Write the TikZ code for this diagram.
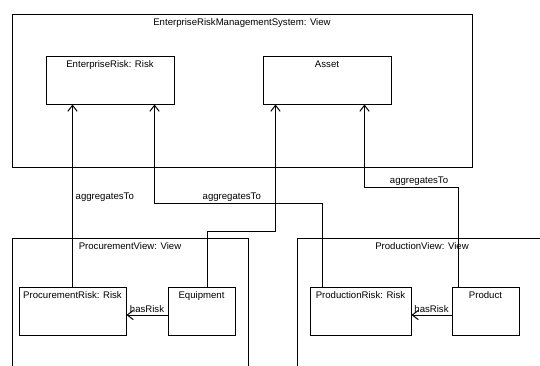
\documentclass[tikz,border=0pt]{standalone}
\usepackage{fontspec}
\setmainfont{Liberation Sans}
\usetikzlibrary{arrows.meta}
\usetikzlibrary{calc}
\tikzset{
    umlbox/.style={
        draw, rectangle, line width=0.75pt, inner sep=0pt
    },
    boxtitle/.style={
        anchor=north, inner sep=3.5pt
    },
    umlarrow/.style={
        line width=0.75pt, -{Straight Barb[length=4.5pt, width=7pt]}
    }
}

\begin{document}
\begin{tikzpicture}[ x=0.75pt, y=-0.75pt, font=\fontsize{7.2}{9}\selectfont ]

	\def\px{0.75pt}
	\def\boxh{48*\px}

		\clip (0, 0) rectangle (540, 365);

		% enterprise view
		\node[ umlbox, minimum width=460*\px, minimum height=153*\px ] (erms) at (242, 90.5) {};
		\node[ boxtitle ] (ermstitle) at (erms.north) {EnterpriseRiskManagementSystem: View};

		\node[ umlbox, minimum width=128*\px, minimum height=\boxh ] (erisk) at (110, 80) {};
		\node[ boxtitle ] (erisktitle) at (erisk.north) {EnterpriseRisk: Risk};

		\node[ umlbox, minimum width=128*\px, minimum height=\boxh ] (asset) at (327, 80) {};
		\node[ boxtitle ] (assettitle) at (asset.north) {Asset};

		% procurement view
		\node[ umlbox, minimum width=236*\px, minimum height=170*\px ] (procview) at (130, 323) {};
		\node[ boxtitle ] (procviewtitle) at (procview.north) {ProcurementView: View};

		\node[ umlbox, minimum width=107*\px, minimum height=\boxh ] (procrisk) at (72.5, 311) {};
		\node[ boxtitle ] (procrisktitle) at (procrisk.north) {ProcurementRisk: Risk};

		\node[ umlbox, minimum width=67*\px, minimum height=\boxh ] (equip) at (201.5, 311) {};
		\node[ boxtitle ] (equiptitle) at (equip.north) {Equipment};

		% production view
		\node[ umlbox, minimum width=270*\px, minimum height=170*\px ] (prodview) at (432, 323) {};
		\node[ boxtitle ] (prodviewtitle) at ($(prodview.north west)+(125.5,0)$) {ProductionView: View};

		\node[ umlbox, minimum width=101*\px, minimum height=\boxh ] (prodrisk) at (360.5, 311) {};
		\node[ boxtitle ] (prodrisktitle) at (prodrisk.north) {ProductionRisk: Risk};

		\node[ umlbox, minimum width=67*\px, minimum height=\boxh ] (product) at (485.5, 311) {};
		\node[ boxtitle ] (producttitle) at (product.north) {Product};

		% aggregatesTo
		\draw[ umlarrow ] (procrisk.north) -- (procrisk.north |- erisk.south) node[ pos=0.49, right, inner sep=2pt ] {aggregatesTo};

		\draw[ umlarrow ] ($(prodrisk.north west)+(13,0)$) |- ($(erisk.south east)+(-20,99)$) node[ pos=0.77, above, inner sep=1.5pt ] {aggregatesTo} -- ($(erisk.south east)+(-20,0)$);

		\draw[ umlarrow ] ($(equip.north west)+(40,0)$) |- ($(asset.south west)+(13,127)$) -- ($(asset.south west)+(13,0)$);

		\draw[ umlarrow ] ($(product.north west)+(7,0)$) |- ($(asset.south east)+(-27,83)$) node[ pos=0.71, above, inner sep=1pt ] {aggregatesTo} -- ($(asset.south east)+(-27,0)$);

		% hasRisk
		\draw[ umlarrow ] ($(equip.west)+(0,4)$) -- ($(procrisk.east)+(0,4)$) node[ midway, above, inner sep=1.5pt ] {hasRisk};

		\draw[ umlarrow ] ($(product.west)+(0,4)$) -- ($(prodrisk.east)+(0,4)$) node[ midway, above, inner sep=1.5pt ] {hasRisk};

	\end{tikzpicture}
\end{document}
